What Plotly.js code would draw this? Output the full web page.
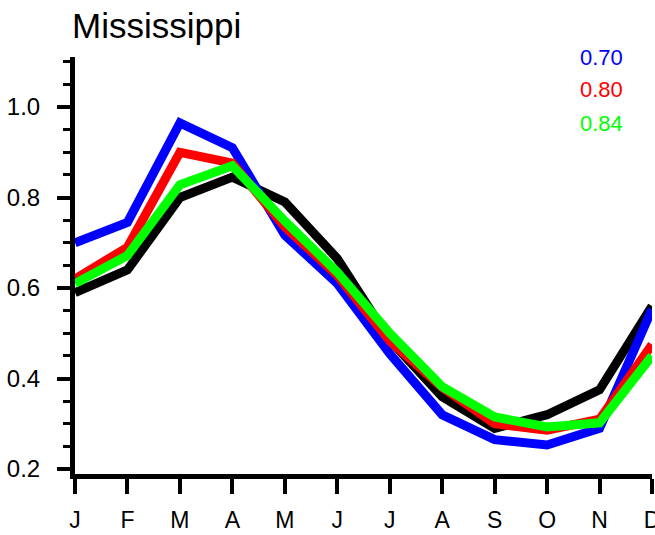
<!DOCTYPE html>
<html>
<head>
<meta charset="utf-8">
<script src="https://cdn.plot.ly/plotly-3.0.1.min.js"></script>
<style>html,body{margin:0;padding:0;background:#fff;}#chart{width:655px;height:535px;}</style>
</head>
<body>
<div id="chart"></div>
<script>
const monthIndex = [1,2,3,4,5,6,7,8,9,10,11,12];
const monthLabels = ['J','F','M','A','M','J','J','A','S','O','N','D'];
const observed = [0.59,0.64,0.80,0.845,0.79,0.665,0.485,0.36,0.29,0.32,0.375,0.56];
const modelBlue = [0.70,0.745,0.965,0.91,0.717,0.61,0.455,0.32,0.265,0.253,0.29,0.553];
const modelRed = [0.62,0.69,0.90,0.876,0.735,0.628,0.483,0.38,0.30,0.286,0.31,0.475];
const modelGreen = [0.61,0.672,0.828,0.87,0.748,0.635,0.50,0.382,0.315,0.293,0.302,0.45];
const corrLabels = ['0.70','0.80','0.84'];
const corrColors = ['#0000ff','#ff0000','#00ff00'];
const yTicks = [0.2,0.4,0.6,0.8,1.0];
const yTickText = ['0.2','0.4','0.6','0.8','1.0'];

const mk = (y, color) => ({x: monthIndex, y: y, mode: 'lines', type: 'scatter',
  line: {color: color, width: 9, shape: 'linear'}, hoverinfo: 'skip', showlegend: false});

const data = [mk(observed,'#000000'), mk(modelBlue,'#0000ff'), mk(modelRed,'#ff0000'), mk(modelGreen,'#00ff00')];

const font = 'Liberation Sans, Arial, Helvetica, sans-serif';
const annotations = corrLabels.map((t,i) => ({
  text: t, xref: 'paper', yref: 'paper', x: 0.912, y: 1 - (0 + i*33)/417,
  xanchor: 'center', yanchor: 'middle', showarrow: false,
  font: {family: font, size: 22, color: corrColors[i]}
}));

const layout = {
  width: 655, height: 535,
  margin: {l: 75, r: 3, t: 57, b: 61},
  paper_bgcolor: '#fff', plot_bgcolor: '#fff',
  title: {text: 'Mississippi', font: {family: font, size: 35, color: '#000'},
    xref: 'container', x: 72/655, xanchor: 'left', yref: 'container', y: 1 - 26/535, yanchor: 'middle'},
  xaxis: {range: [1, 12], tickvals: monthIndex, ticktext: monthLabels,
    showline: true, linewidth: 5, linecolor: '#000', showgrid: false, zeroline: false,
    ticks: 'outside', ticklen: 15, tickwidth: 4, tickcolor: '#000', ticklabelstandoff: 6,
    ticklabeloverflow: 'allow',
    tickfont: {family: font, size: 23, color: '#000'}},
  yaxis: {range: [0.189, 1.1105], tickvals: yTicks, ticktext: yTickText,
    showline: true, linewidth: 5, linecolor: '#000', showgrid: false, zeroline: false,
    ticks: 'outside', ticklen: 13, tickwidth: 4, tickcolor: '#000', ticklabelstandoff: 12,
    tickfont: {family: font, size: 24, color: '#000'},
    minor: {dtick: 0.05, tick0: 0, ticks: 'outside', ticklen: 7, tickwidth: 3, tickcolor: '#000', showgrid: false}},
  annotations: annotations
};

Plotly.newPlot('chart', data, layout, {staticPlot: true, displayModeBar: false});
</script>
</body>
</html>
